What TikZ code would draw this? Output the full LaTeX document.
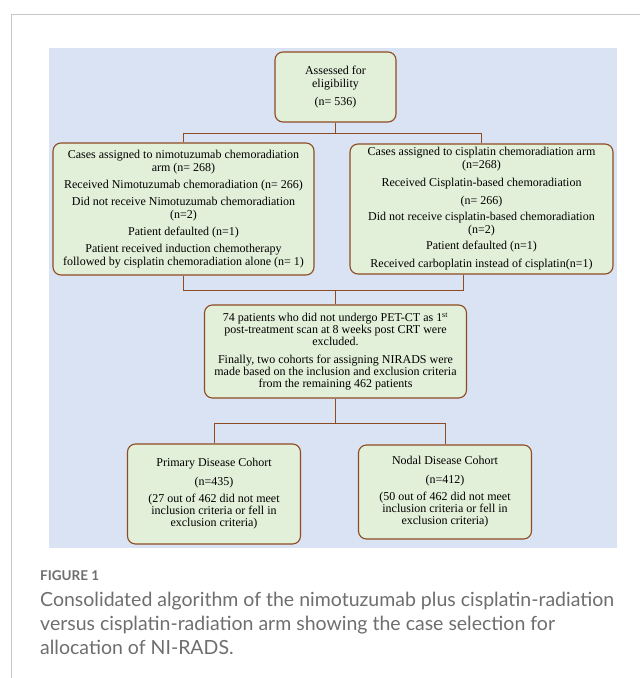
\documentclass[tikz,border=0pt]{standalone}
\usepackage{fontspec}
\setmainfont{Liberation Serif}
\newfontfamily\capfont{Lato}
\usepackage{xcolor}
\usetikzlibrary{positioning}

\definecolor{panelblue}{HTML}{DAE3F3}
\definecolor{boxgreen}{HTML}{E2EFD9}
\definecolor{boxedge}{HTML}{8E4B22}
\definecolor{framegray}{HTML}{C8C8C8}
\definecolor{capgray}{HTML}{6E6E6E}

\tikzset{
  flowbox/.style={draw=boxedge, fill=boxgreen, line width=1.1pt, rounded corners=8pt,
    align=center, inner sep=0pt, font=\fontsize{12}{13}\selectfont},
  link/.style={draw=boxedge, line width=0.9pt}
}

\begin{document}
\begin{tikzpicture}[x=1pt,y=-1pt,node distance=100pt,on grid]
       \useasboundingbox (0,0) rectangle (640,678);
       \draw[framegray, line width=1pt] (640,14.5) -- (11.5,14.5) -- (11.5,678);
       \fill[panelblue] (49,48) rectangle (617,548);

       \node[flowbox, minimum width=121pt, minimum height=70pt] (assess) at (335.5,87)
         {Assessed for\\ eligibility\\[5pt] (n= 536)};
       \node[flowbox, minimum width=261pt, minimum height=132pt] (nimo) [below left=122pt and 152pt of assess]
         {Cases assigned to nimotuzumab chemoradiation\\ arm (n= 268)\\[4pt]
          Received Nimotuzumab chemoradiation (n= 266)\\[4pt]
          Did not receive Nimotuzumab chemoradiation\\ (n=2)\\[4pt]
          Patient defaulted (n=1)\\[4pt]
          Patient received induction chemotherapy\\ followed by cisplatin chemoradiation alone (n= 1)};
       \node[flowbox, minimum width=263pt, minimum height=130pt] (cisp) [below right=122pt and 146pt of assess]
         {Cases assigned to cisplatin chemoradiation arm\\ (n=268)\\[5pt]
          Received Cisplatin-based chemoradiation\\[5pt]
          (n= 266)\\[3pt]
          Did not receive cisplatin-based chemoradiation\\ (n=2)\\[3pt]
          Patient defaulted (n=1)\\[5pt]
          Received carboplatin instead of cisplatin(n=1)};
       \node[flowbox, minimum width=262pt, minimum height=93pt] (petct) [below=264.5pt of assess]
         {74 patients who did not undergo PET-CT as 1\textsuperscript{st}\\[-1pt]
          post-treatment scan at 8 weeks post CRT were\\[-1pt] excluded.\\[5pt]
          Finally, two cohorts for assigning NIRADS were\\[-1pt]
          made based on the inclusion and exclusion criteria\\[-1pt]
          from the remaining 462 patients};
       \node[flowbox, minimum width=173pt, minimum height=100pt] (primary) [below left=142.5pt and 121.5pt of petct]
         {Primary Disease Cohort\\[6pt] (n=435)\\[4pt]
          (27 out of 462 did not meet\\[-1pt] inclusion criteria or fell in\\[-1pt] exclusion criteria)};
       \node[flowbox, minimum width=173pt, minimum height=94pt] (nodal) [below right=140.5pt and 109.5pt of petct]
         {Nodal Disease Cohort\\[6pt] (n=412)\\[4pt]
          (50 out of 462 did not meet\\[-1pt] inclusion criteria or fell in\\[-1pt] exclusion criteria)};

       % connectors
       \coordinate (split1) at ([yshift=-11pt]assess.south);
       \coordinate (join2) at ([yshift=-15pt]nimo.south);
       \coordinate (split3) at ([yshift=-25pt]petct.south);
       \draw[link] (assess.south) -- (split1);
       \draw[link] (nimo.north) |- (split1) -| (cisp.north);
       \draw[link] (nimo.south) |- (join2) -| ([xshift=-18pt]cisp.south);
       \draw[link] (petct.north) -- (petct.north |- join2);
       \draw[link] (petct.south) -- (split3);
       \draw[link] (primary.north) |- (split3) -| (nodal.north);

       % caption
       \node[anchor=base west, inner sep=0pt, text=capgray, font=\capfont\bfseries\fontsize{13.5}{16}\selectfont] (figlabel) at (40,580) {FIGURE 1};
       \node[anchor=base west, inner sep=0pt, text=capgray, align=left,
             font=\capfont\fontsize{19.5}{24}\selectfont] (caption) at (40,654)
         {Consolidated algorithm of the nimotuzumab plus cisplatin-radiation\\
          versus cisplatin-radiation arm showing the case selection for\\
          allocation of NI-RADS.};
\end{tikzpicture}
\end{document}
